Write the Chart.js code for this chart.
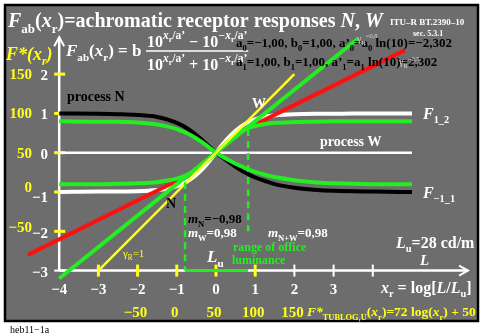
<!DOCTYPE html>
<html>
<head>
<meta charset="utf-8">
<script src="https://cdn.jsdelivr.net/npm/chart.js@4/dist/chart.umd.min.js"></script>
<style>
  html, body { margin: 0; padding: 0; background: #fff; overflow: hidden; }
  canvas { display: block; }
</style>
</head>
<body>
<canvas id="c" width="486" height="336"></canvas>
<script>
// Sample positions along x_r = log[L/L_u]
const xr = [-4, -3, -2.5, -2, -1.5, -1.25, -1, -0.75, -0.5, -0.25, 0, 0.25, 0.5, 0.75, 1, 1.25, 1.5, 2, 2.5, 3, 4, 5];
// Receptor responses (F_ab)
const processN = [1.00, 0.99, 0.98, 0.96, 0.91, 0.85, 0.76, 0.63, 0.45, 0.23, 0, -0.18, -0.36, -0.51, -0.63, -0.72, -0.80, -0.89, -0.94, -0.97, -0.99, -1.00];
const processW = [-1.00, -0.99, -0.99, -0.98, -0.95, -0.92, -0.85, -0.74, -0.56, -0.31, 0, 0.31, 0.56, 0.74, 0.85, 0.92, 0.95, 0.98, 0.99, 0.99, 1.00, 1.00];
const greenN = [0.80, 0.79, 0.79, 0.77, 0.72, 0.67, 0.60, 0.50, 0.36, 0.19, 0, -0.15, -0.28, -0.39, -0.49, -0.56, -0.62, -0.70, -0.75, -0.78, -0.80, -0.80];
const greenW = [-0.80, -0.80, -0.79, -0.78, -0.75, -0.71, -0.66, -0.57, -0.43, -0.23, 0, 0.23, 0.44, 0.60, 0.68, 0.73, 0.76, 0.78, 0.79, 0.80, 0.80, 0.80];
const zeroX = [-4, 5];
const zeroY = [0, 0];
// Straight reference lines (gamma_R = 1, 0.8 and 0.5 tangents)
const gamma1X = [-3, 2];
const gamma1Y = [-3, 2];
const gamma08X = [-4, 3.62];
const gamma08Y = [-3.2, 2.9];
const redLowX = [-4.8, -0.8];
const redLowY = [-2.6, -0.62];
const redHighX = [0.82, 4.82];
const redHighY = [0.63, 2.61];
// Range of office luminance
const officeX = [-0.79, 0.82];
const officeLeftY = [-0.75, -3];
const officeRightY = [0.6, -2.0];
const officeBottomY = [-3, -3];
// Axis ticks and labels
const xTicks = [-4, -3, -2, -1, 0, 1, 2, 3];
const xTickMarks = [-3, -2, -1, 0, 1, 2, 3, 4];
const yTicks = [2, 1, 0, -1, -2, -3];
const fStarXPos = [-2, -1, 0, 1, 2];
const fStarXLabels = ['−50', '0', '50', '100', '150'];
const fStarYPos = [2, 1, 0, -1, -2];
const fStarYLabels = ['150', '100', '50', '0', '−50'];

const FONT = '"Liberation Serif", "DejaVu Serif", "Times New Roman", serif';
const YEL = '#ffff1a';
const GRN = '#22ee22';
const GRAY = '#6d6d6d';

const pts = (xs, ys) => xs.map((x, i) => ({ x, y: ys[i] }));

function rich(ctx, x, y, parts, size, color, align) {
  const segs = parts.map(p => {
    const t = p[0], f = p[1] || '';
    const sub = f.includes('d'), sup = f.includes('u');
    const k = p[2] != null ? p[2] : (sub || sup ? 0.65 : 1);
    const dy = p[3] != null ? p[3] : (sub ? 0.28 : sup ? -0.42 : 0);
    const font = (f.includes('i') ? 'italic ' : '') + (f.includes('n') ? '' : 'bold ') + (size * k).toFixed(1) + 'px ' + FONT;
    ctx.font = font;
    return { t, font, dy: dy * size, w: ctx.measureText(t).width, c: p[4] || color };
  });
  const total = segs.reduce((a, s) => a + s.w, 0);
  let cx = align === 'center' ? x - total / 2 : align === 'right' ? x - total : x;
  ctx.textAlign = 'left';
  ctx.textBaseline = 'alphabetic';
  for (const s of segs) {
    ctx.font = s.font;
    ctx.fillStyle = s.c;
    ctx.fillText(s.t, cx, y + s.dy);
    cx += s.w;
  }
  return cx;
}

const decor = {
  id: 'decor',
  beforeDraw(chart) {
    const ctx = chart.ctx;
    ctx.save();
    ctx.fillStyle = '#fff';
    ctx.fillRect(0, 0, chart.width, chart.height);
    ctx.fillStyle = GRAY;
    ctx.fillRect(5, 5, 473, 316);
    ctx.strokeStyle = '#000';
    ctx.lineWidth = 2.5;
    ctx.strokeRect(5, 5, 473, 316);
    ctx.restore();
  },
  beforeDatasetsDraw(chart) {
    const ctx = chart.ctx;
    const sx = v => chart.scales.x.getPixelForValue(v);
    const sy = v => chart.scales.y.getPixelForValue(v);
    const x0 = sx(-4), y0 = sy(-3);
    const xEnd = sx(6.43), yEnd = sy(2.94);
    ctx.save();
    ctx.strokeStyle = '#fff';
    ctx.lineWidth = 2.5;
    ctx.lineCap = 'butt';
    ctx.beginPath();
    ctx.moveTo(x0, y0); ctx.lineTo(xEnd, y0);
    ctx.moveTo(x0, y0); ctx.lineTo(x0, yEnd);
    ctx.stroke();
    // arrow heads
    ctx.lineWidth = 2;
    ctx.beginPath();
    ctx.moveTo(xEnd - 9, y0 - 5); ctx.lineTo(xEnd, y0); ctx.lineTo(xEnd - 9, y0 + 5);
    ctx.moveTo(x0 - 5, yEnd + 9); ctx.lineTo(x0, yEnd); ctx.lineTo(x0 + 5, yEnd + 9);
    ctx.stroke();
    // tick marks
    xTickMarks.forEach(v => {
      ctx.strokeStyle = v <= 1 ? YEL : '#fff';
      ctx.lineWidth = v <= 1 ? 3 : 2;
      ctx.beginPath();
      ctx.moveTo(sx(v), y0 - 6); ctx.lineTo(sx(v), y0 + 6);
      ctx.stroke();
    });
    yTicks.forEach(v => {
      ctx.strokeStyle = v >= -2 ? YEL : '#fff';
      ctx.lineWidth = v >= -2 ? 3 : 2;
      ctx.beginPath();
      ctx.moveTo(x0 - 5, sy(v)); ctx.lineTo(x0 + 6, sy(v));
      ctx.stroke();
    });
    ctx.restore();
  },
  afterDatasetsDraw(chart) {
    const ctx = chart.ctx;
    const sx = v => chart.scales.x.getPixelForValue(v);
    const sy = v => chart.scales.y.getPixelForValue(v);
    ctx.save();
    // title block
    rich(ctx, 8, 27, [['F', 'i'], ['ab', 'd'], ['('], ['x', 'i'], ['r', 'd'], [')=achromatic receptor responses '], ['N', 'i'], [', '], ['W', 'i']], 20, '#fff');
    rich(ctx, 390, 25, [['ITU–R BT.2390–10']], 9, '#fff');
    rich(ctx, 413, 36, [['sec. 5.3.1']], 8, '#fff');
    rich(ctx, 6, 60, [['F*(', 'i'], ['x', 'i'], ['r', 'di'], [')', 'i']], 18, YEL);
    // formula
    rich(ctx, 66, 56, [['F', 'i'], ['ab', 'd'], ['('], ['x', 'i'], ['r', 'd'], [') = b']], 17, '#fff');
    const num = [['10'], ['x', 'iu', 0.72, -0.5], ['r', 'd', 0.5, -0.33], ['/a’', 'u', 0.72, -0.5], [' − 10'], ['−x', 'iu', 0.72, -0.5], ['r', 'd', 0.5, -0.33], ['/a’', 'u', 0.72, -0.5]];
    const den = num.map(p => p[0] === ' − 10' ? [' + 10'] : p);
    const nEnd = rich(ctx, 147, 47, num, 16, '#fff');
    rich(ctx, 147, 70, den, 16, '#fff');
    ctx.strokeStyle = '#fff';
    ctx.lineWidth = 1.5;
    ctx.beginPath(); ctx.moveTo(146, 51); ctx.lineTo(nEnd + 1, 51); ctx.stroke();
    rich(ctx, 236, 47, [['a'], ['0', 'd'], ['=−1,00, b'], ['0', 'd'], ['=1,00, a’'], ['0', 'd'], ['=a'], ['0', 'd'], [' ln(10)=−2,302']], 13, '#000');
    rich(ctx, 236, 66, [['a'], ['1', 'd'], ['=1,00, b'], ['1', 'd'], ['=1,00, a’'], ['1', 'd'], ['=a'], ['1', 'd'], [' ln(10)=2,302']], 13, '#000');
    rich(ctx, 357, 42, [['γ', 'n'], ['R', 'nd'], ['=0,8', 'nu']], 10, '#d8d8d8');
    rich(ctx, 399, 65, [['γ', 'n'], ['R', 'nd'], ['=0,5', 'nu']], 10, '#d8d8d8');
    // axis labels
    yTicks.forEach(v => {
      const off = v === -1 ? 5 : v === -2 ? 2 : 1;
      rich(ctx, 48, sy(v) + off + 5, [[v < 0 ? '−' + (-v) : String(v)]], 15, '#fff', 'right');
    });
    fStarYPos.forEach((v, i) => {
      const off = v === -1 ? -5 : v === -2 ? -4 : 0;
      rich(ctx, 32, sy(v) + off + 5, [[fStarYLabels[i]]], 15, YEL, 'right');
    });
    xTicks.forEach(v => {
      rich(ctx, sx(v), 294, [[v < 0 ? '−' + (-v) : String(v)]], 15, '#fff', 'center');
    });
    fStarXPos.forEach((v, i) => {
      rich(ctx, sx(v) - 2, 317, [[fStarXLabels[i]]], 15, YEL, 'center');
    });
    rich(ctx, 307, 316, [['F*', 'i'], ['TUBLOG,U', 'd', 0.62, 0.3], ['('], ['x', 'i'], ['r', 'd'], [')=72 log('], ['x', 'i'], ['r', 'd'], [') + 50']], 13.5, YEL);
    rich(ctx, 381, 293, [['x', 'i'], ['r', 'd'], [' = log['], ['L', 'i'], ['/'], ['L', 'i'], ['u', 'd'], [']']], 16, '#fff');
    rich(ctx, 396, 248, [['L', 'i'], ['u', 'd'], ['=28 cd/m']], 16, '#fff');
    rich(ctx, 420, 265, [['L', 'i']], 15, '#fff');
    // curve and range annotations
    rich(ctx, 67, 101, [['process N']], 14, '#000');
    rich(ctx, 320, 146, [['process W']], 14, '#fff');
    rich(ctx, 252, 108, [['W']], 14, '#fff');
    rich(ctx, 166, 208, [['N']], 14, '#000');
    rich(ctx, 423, 119, [['F', 'i'], ['1_2', 'd']], 16, '#fff');
    rich(ctx, 423, 198, [['F', 'i'], ['−1_1', 'd']], 16, '#fff');
    rich(ctx, 188, 223, [['m', 'i'], ['N', 'd'], ['=−0,98']], 13, '#000');
    rich(ctx, 188, 237, [['m', 'i'], ['W', 'd'], ['=0,98']], 13, '#fff');
    rich(ctx, 268, 237, [['m', 'i'], ['N+W', 'd'], ['=0,98']], 13, '#fff');
    rich(ctx, 233, 251, [['range of office']], 12, GRN);
    rich(ctx, 232, 264, [['luminance']], 12, GRN);
    rich(ctx, 207, 262, [['L', 'i'], ['u', 'd']], 17, '#fff');
    rich(ctx, 123, 257, [['γ', 'n'], ['R', 'nd'], ['=1', 'n']], 11, YEL);
    rich(ctx, 10, 333, [['heb11−1a', 'n']], 10, '#000');
    ctx.restore();
  }
};

const line = (data, color, width, order, extra) => Object.assign({
  data, borderColor: color, borderWidth: width, pointRadius: 0, showLine: true,
  fill: false, order, cubicInterpolationMode: 'monotone'
}, extra || {});

new Chart(document.getElementById('c'), {
  type: 'scatter',
  data: {
    datasets: [
      line(pts(zeroX, zeroY), '#fff', 2.5, 9),
      line(pts(xr, processN), '#000', 4, 8),
      line(pts(xr, processW), '#fff', 4, 7),
      line(pts(redLowX, redLowY), '#ff1010', 4, 6),
      line(pts(redHighX, redHighY), '#ff1010', 4, 6),
      line(pts(xr, greenN), GRN, 4, 5),
      line(pts(xr, greenW), GRN, 4, 5),
      line(pts(gamma08X, gamma08Y), GRN, 4, 4),
      line(pts(gamma1X, gamma1Y), YEL, 2.5, 3),
      line(pts([officeX[0], officeX[0]], officeLeftY), GRN, 2.5, 2, { borderDash: [7, 5] }),
      line(pts([officeX[1], officeX[1]], officeRightY), GRN, 2.5, 2, { borderDash: [7, 5] }),
      line(pts(officeX, officeBottomY), GRN, 3, 1)
    ]
  },
  options: {
    responsive: false,
    animation: false,
    devicePixelRatio: 1,
    layout: { padding: 0 },
    plugins: { legend: { display: false }, tooltip: { enabled: false }, title: { display: false } },
    scales: {
      x: { type: 'linear', min: -5.51, max: 6.888, display: false },
      y: { type: 'linear', min: -4.664, max: 3.886, display: false }
    }
  },
  plugins: [decor]
});
</script>
</body>
</html>
